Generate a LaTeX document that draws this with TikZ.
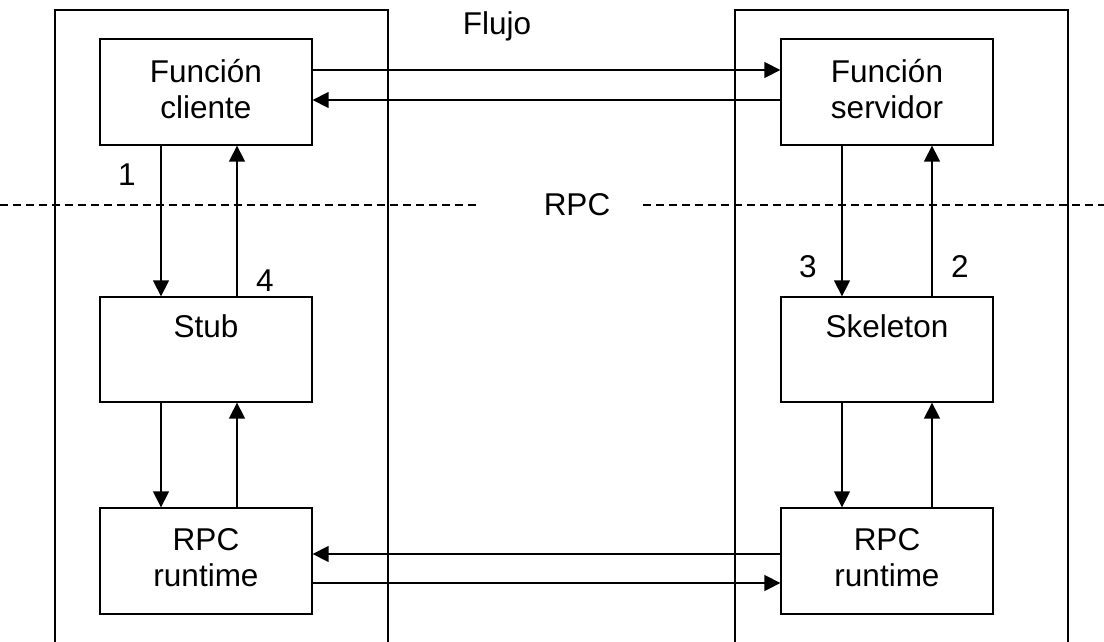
\documentclass[tikz,border=0pt]{standalone}
\usepackage{fontspec}
\setmainfont{Liberation Sans}
\usetikzlibrary{arrows.meta}
\begin{document}
\begin{tikzpicture}[x=1pt,y=-1pt,
  box/.style={draw,line width=1.3pt,minimum width=212pt,minimum height=106pt,inner sep=0pt},
  txt/.style={font=\fontsize{31.5}{36}\selectfont,align=center,inner sep=0pt},
  arr/.style={line width=1.4pt,-{Triangle[width=16pt,length=16pt]}},
  frame/.style={line width=1.3pt},
  sep/.style={line width=1.2pt,dash pattern=on 8pt off 5pt}]
\useasboundingbox (0,0) rectangle (1104,642);
% containers
\draw[frame] (55,650) -- (55,10) -- (388,10) -- (388,650);
\draw[frame] (735,650) -- (735,10) -- (1068,10) -- (1068,650);
% separator
\coordinate (d1) at (0,205);
\coordinate (d2) at (478,205);
\coordinate (d3) at (643,205);
\coordinate (d4) at (1104,205);
\draw[sep] (d1) -- (d2);
\draw[sep] (d3) -- (d4);
\node[txt] (rpc) at (577,205) {RPC};
\node[txt] (flujo) at (497,26) {Flujo};
% boxes
\node[box] (fc) at (206,92) {};
\node[box] (fs) at (887,92) {};
\node[box,minimum height=105pt] (stub) at (206,349.5) {};
\node[box,minimum height=105pt] (skel) at (887,349.5) {};
\node[box] (rl) at (206,561) {};
\node[box] (rr) at (887,561) {};
% texts
\node[txt] (tfc) at (206,89) {Función\\cliente};
\node[txt] (tfs) at (887,89) {Función\\servidor};
\node[txt,anchor=base] (tstub) at (206,337) {Stub};
\node[txt,anchor=base] (tskel) at (887,337) {Skeleton};
\node[txt] (trl) at (206,558) {RPC\\runtime};
\node[txt] (trr) at (887,558) {RPC\\runtime};
% numbers
\node[txt] (n1) at (127,175) {1};
\node[txt] (n4) at (265,281) {4};
\node[txt] (n3) at (808,267) {3};
\node[txt] (n2) at (960,267) {2};
% horizontal arrows
\draw[arr] ([yshift=22pt]fc.east) -- ([yshift=22pt]fs.west);
\draw[arr] ([yshift=-8pt]fs.west) -- ([yshift=-8pt]fc.east);
\draw[arr] ([yshift=7pt]rr.west) -- ([yshift=7pt]rl.east);
\draw[arr] ([yshift=-22pt]rl.east) -- ([yshift=-22pt]rr.west);
% vertical arrows left
\draw[arr] ([xshift=-45pt]fc.south) -- ([xshift=-45pt]stub.north);
\draw[arr] ([xshift=31pt]stub.north) -- ([xshift=31pt]fc.south);
\draw[arr] ([xshift=-45pt]stub.south) -- ([xshift=-45pt]rl.north);
\draw[arr] ([xshift=31pt]rl.north) -- ([xshift=31pt]stub.south);
% vertical arrows right
\draw[arr] ([xshift=-45pt]fs.south) -- ([xshift=-45pt]skel.north);
\draw[arr] ([xshift=45pt]skel.north) -- ([xshift=45pt]fs.south);
\draw[arr] ([xshift=-45pt]skel.south) -- ([xshift=-45pt]rr.north);
\draw[arr] ([xshift=45pt]rr.north) -- ([xshift=45pt]skel.south);
\end{tikzpicture}
\end{document}
